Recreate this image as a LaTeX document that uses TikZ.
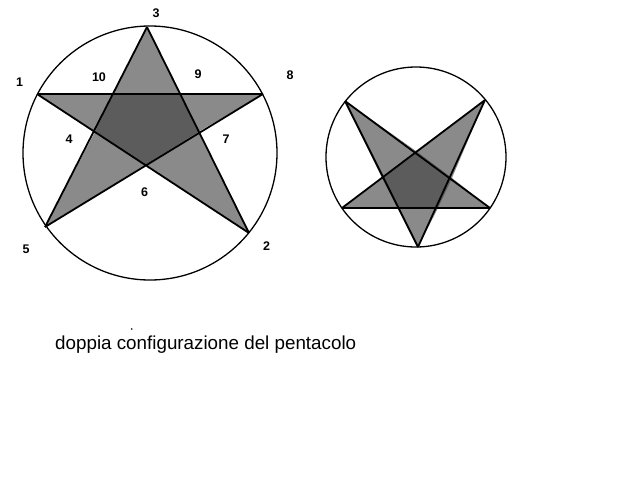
\documentclass[tikz,border=0pt]{standalone}
\usepackage{fontspec}
\setmainfont{Liberation Sans}
\begin{document}
\begin{tikzpicture}[x=1pt,y=-1pt,
  ring/.style={draw=black,line width=1.3pt},
  starline/.style={line width=1.8pt},
  armfill/.style={fill=black!46},
  corefill/.style={fill=black!64},
  num/.style={font=\bfseries\fontsize{12.5}{13}\selectfont,inner sep=0pt}]
\useasboundingbox[fill=white] (0,0) rectangle (640,480);
% left figure
\node[ring,circle,minimum size=254pt,inner sep=0pt] (cL) at (150,153) {};
\coordinate (T) at (147,27);
\coordinate (L) at (37,94);
\coordinate (R) at (263,94);
\coordinate (BL) at (45,227);
\coordinate (BR) at (249,233);
\coordinate (p1) at (113,94);
\coordinate (p2) at (181,94);
\coordinate (p3) at (198,132);
\coordinate (p4) at (145,165);
\coordinate (p5) at (95,132);
\fill[armfill] (T) -- (p2) -- (R) -- (p3) -- (BR) -- (p4) -- (BL) -- (p5) -- (L) -- (p1) -- cycle;
\fill[corefill] (p1) -- (p2) -- (p3) -- (p4) -- (p5) -- cycle;
\draw[starline] (T) -- (BL) (T) -- (BR) (L) -- (R) (L) -- (BR) (R) -- (BL);
\node[num] (n3) at (156,13) {3};
\node[num] (n10) at (99,77) {10};
\node[num] (n9) at (198,74) {9};
\node[num] (n8) at (290,75) {8};
\node[num] (n1) at (19.5,82) {1};
\node[num] (n4) at (69,139) {4};
\node[num] (n7) at (226,139) {7};
\node[num] (n6) at (144.5,192) {6};
\node[num] (n5) at (26,249) {5};
\node[num] (n2) at (266.5,246) {2};
% right figure
\node[ring,circle,minimum size=180pt,inner sep=0pt] (cR) at (416,157) {};
\coordinate (TL) at (345,101);
\coordinate (TR) at (485,100);
\coordinate (ML) at (342,208);
\coordinate (MR) at (490,208);
\coordinate (B) at (418,247);
\coordinate (q1) at (416,151);
\coordinate (q2) at (452,178);
\coordinate (q3) at (438,208);
\coordinate (q4) at (398,208);
\coordinate (q5) at (382,178);
\fill[armfill] (TL) -- (q1) -- (TR) -- (q2) -- (MR) -- (q3) -- (B) -- (q4) -- (ML) -- (q5) -- cycle;
\fill[corefill] (q1) -- (q2) -- (q3) -- (q4) -- (q5) -- cycle;
\draw[starline] (TL) -- (B) (B) -- (TR) (TR) -- (ML) (ML) -- (MR) (MR) -- (TL);
% caption
\node[inner sep=0pt,anchor=base west,font=\fontsize{18.8}{20}\selectfont] (cap) at (55,349) {doppia configurazione del pentacolo};
\fill (131.7,329) circle (0.9pt);
\end{tikzpicture}
\end{document}
